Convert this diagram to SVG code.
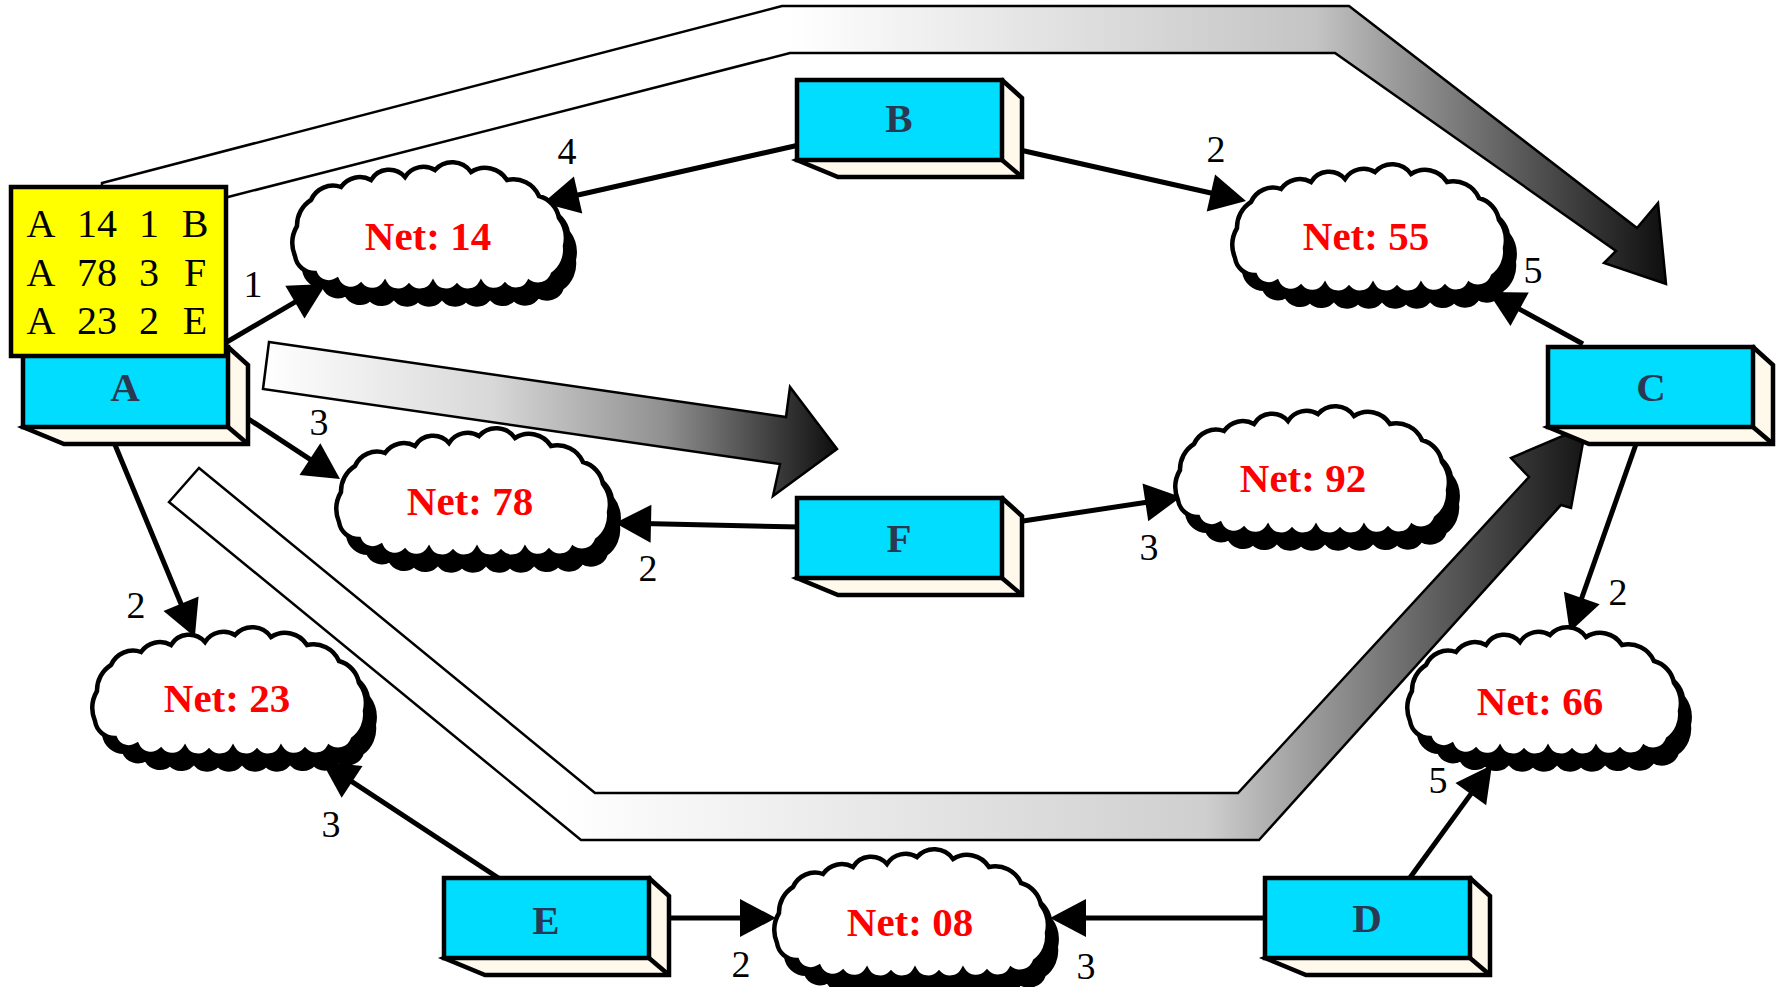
<svg xmlns="http://www.w3.org/2000/svg" xmlns:xlink="http://www.w3.org/1999/xlink" width="1777" height="987" viewBox="0 0 1777 987">
  <style>
    .bg { fill: #ffffff; }
    .block { stroke: #000; stroke-width: 2.5; stroke-linejoin: miter; }
    .conn { fill: none; stroke: #000; stroke-width: 5; marker-end: url(#ah); }
    .elabel { font-family: "Liberation Serif", "Times New Roman", serif; font-size: 38px; fill: #000; text-anchor: middle; }
    .cshadow { fill: #000; stroke: #000; stroke-width: 4; }
    .cbody { fill: #fff; stroke: #000; stroke-width: 4.5; }
    .ctext { font-family: "Liberation Serif", "Times New Roman", serif; font-weight: bold; font-size: 41px; fill: #ff0000; text-anchor: middle; }
    .front { fill: #00ddff; stroke: #000; stroke-width: 4.5; }
    .side { fill: #fff9ec; stroke: #000; stroke-width: 4.5; stroke-linejoin: miter; }
    .ntext { font-family: "Liberation Serif", "Times New Roman", serif; font-weight: bold; font-size: 41px; fill: #2a3852; text-anchor: middle; }
    .table { fill: #ffff00; stroke: #000; stroke-width: 4.5; }
    .ttext { font-family: "Liberation Serif", "Times New Roman", serif; font-size: 40px; fill: #000; text-anchor: middle; }
  </style>
  <defs>
    <marker id="ah" markerUnits="userSpaceOnUse" markerWidth="40" markerHeight="40" refX="8" refY="19" orient="auto" overflow="visible">
      <path d="M0,0 L36,19 L0,38 Z" fill="#000"/>
    </marker>
    <linearGradient id="gTop" gradientUnits="userSpaceOnUse" x1="790" y1="0" x2="1666" y2="0">
      <stop offset="0" stop-color="#ffffff"/>
      <stop offset="0.6" stop-color="#c4c4c4"/>
      <stop offset="1" stop-color="#0e0e0e"/>
    </linearGradient>
    <linearGradient id="gMid" gradientUnits="userSpaceOnUse" x1="263" y1="0" x2="837" y2="0">
      <stop offset="0" stop-color="#ffffff"/>
      <stop offset="0.4" stop-color="#d8d8d8"/>
      <stop offset="0.7" stop-color="#909090"/>
      <stop offset="1" stop-color="#0e0e0e"/>
    </linearGradient>
    <linearGradient id="gBot" gradientUnits="userSpaceOnUse" x1="560" y1="0" x2="1600" y2="0">
      <stop offset="0" stop-color="#ffffff"/>
      <stop offset="0.62" stop-color="#cfcfcf"/>
      <stop offset="1" stop-color="#0e0e0e"/>
    </linearGradient>
    <!-- cloud outline, 274 x 119: lobed top, smoother sides, scalloped bottom -->
    <path id="cloud" d="M2,88 A34,34 0 0 1 4,58 A30,30 0 0 1 18,32 A24,24 0 0 1 48,19 A23,23 0 0 1 78,12 A21,21 0 0 1 112,9 A22,22 0 0 1 142,2 A23,23 0 0 1 178,4 A26,26 0 0 1 214,12 A28,28 0 0 1 246,28 A28,28 0 0 1 266,50 A34,34 0 0 1 272,78 A30,30 0 0 1 260,106 A16,16 0 0 1 236,114 A15,15 0 0 1 212,117 A15,15 0 0 1 188,115 A15,15 0 0 1 164,118 A15,15 0 0 1 140,115 A15,15 0 0 1 116,118 A15,15 0 0 1 92,115 A15,15 0 0 1 68,117 A15,15 0 0 1 44,112 A15,15 0 0 1 22,105 A20,20 0 0 1 2,88 Z"/>
    <!-- router box: front face 205 x 80 with extruded side and bottom -->
    <g id="box">
      <polygon class="side" points="205,0 225,18 225,97 41,97 0,80"/>
      <line x1="205" y1="80" x2="225" y2="97" stroke="#000" stroke-width="4.5"/>
      <rect class="front" x="0" y="0" width="205" height="80"/>
    </g>
  </defs>

  <rect class="bg" x="0" y="0" width="1777" height="987"/>

  <!-- wide shaded route arrows -->
  <g id="routes">
    <polygon class="block" fill="url(#gTop)" points="102,204 102,183 782,6 1349,6 1637,228 1658,203 1666,284 1604,263 1616,251 1335,53 790,53 228,197 200,204"/>
    <polygon class="block" fill="url(#gMid)" points="269,342 786,417 790,387 837,449 773,496 780,464 263,389"/>
    <polygon class="block" fill="url(#gBot)" points="199,468 595,793 1238,793 1529,477 1511,458 1586,426 1571,508 1561,505 1259,840 581,840 169,502"/>
  </g>

  <!-- links between routers and networks, with hop costs -->
  <g id="connectors">
    <path class="conn" d="M220,346 L301.8,298.1"/>
    <path class="conn" d="M799,145 L570.3,196.8"/>
    <path class="conn" d="M1020,150 L1218.7,194.8"/>
    <path class="conn" d="M1583,344 L1512.6,305.4"/>
    <path class="conn" d="M247,418 L316.6,463.6"/>
    <path class="conn" d="M800,527 L643,523.6"/>
    <path class="conn" d="M1023,521 L1153.3,501.2"/>
    <path class="conn" d="M113,440 L184.1,611.2"/>
    <path class="conn" d="M500,879 L345.4,777.4"/>
    <path class="conn" d="M669,918 L748,918"/>
    <path class="conn" d="M1267,918 L1078,918"/>
    <path class="conn" d="M1409,879 L1475.5,787.6"/>
    <path class="conn" d="M1641,430 L1579.1,605.5"/>

    <text class="elabel" x="253" y="297">1</text>
    <text class="elabel" x="567" y="164">4</text>
    <text class="elabel" x="1216" y="162">2</text>
    <text class="elabel" x="1533" y="283">5</text>
    <text class="elabel" x="319" y="435">3</text>
    <text class="elabel" x="648" y="581">2</text>
    <text class="elabel" x="1149" y="560">3</text>
    <text class="elabel" x="136" y="618">2</text>
    <text class="elabel" x="331" y="837">3</text>
    <text class="elabel" x="741" y="977">2</text>
    <text class="elabel" x="1086" y="979">3</text>
    <text class="elabel" x="1438" y="793">5</text>
    <text class="elabel" x="1618" y="605">2</text>
  </g>

  <!-- networks -->
  <g id="net14">
    <use href="#cloud" xlink:href="#cloud" class="cshadow" x="302" y="182"/>
    <use href="#cloud" xlink:href="#cloud" class="cbody" x="293" y="168"/>
    <text class="ctext" x="428" y="250">Net: 14</text>
  </g>
  <g id="net55">
    <use href="#cloud" xlink:href="#cloud" class="cshadow" x="1242" y="184"/>
    <use href="#cloud" xlink:href="#cloud" class="cbody" x="1233" y="170"/>
    <text class="ctext" x="1366" y="250">Net: 55</text>
  </g>
  <g id="net78">
    <use href="#cloud" xlink:href="#cloud" class="cshadow" x="346" y="448"/>
    <use href="#cloud" xlink:href="#cloud" class="cbody" x="337" y="434"/>
    <text class="ctext" x="470" y="515">Net: 78</text>
  </g>
  <g id="net92">
    <use href="#cloud" xlink:href="#cloud" class="cshadow" x="1185" y="426"/>
    <use href="#cloud" xlink:href="#cloud" class="cbody" x="1176" y="412"/>
    <text class="ctext" x="1303" y="492">Net: 92</text>
  </g>
  <g id="net23">
    <use href="#cloud" xlink:href="#cloud" class="cshadow" x="102" y="647"/>
    <use href="#cloud" xlink:href="#cloud" class="cbody" x="93" y="633"/>
    <text class="ctext" x="227" y="712">Net: 23</text>
  </g>
  <g id="net66">
    <use href="#cloud" xlink:href="#cloud" class="cshadow" x="1417" y="647"/>
    <use href="#cloud" xlink:href="#cloud" class="cbody" x="1408" y="633"/>
    <text class="ctext" x="1540" y="715">Net: 66</text>
  </g>
  <g id="net08">
    <use href="#cloud" xlink:href="#cloud" class="cshadow" x="784" y="869"/>
    <use href="#cloud" xlink:href="#cloud" class="cbody" x="775" y="855"/>
    <text class="ctext" x="910" y="936">Net: 08</text>
  </g>

  <!-- routers -->
  <g id="routerA">
    <use href="#box" xlink:href="#box" x="23" y="347"/>
    <text class="ntext" x="125" y="401">A</text>
  </g>
  <g id="routerB">
    <use href="#box" xlink:href="#box" x="797" y="80"/>
    <text class="ntext" x="899" y="132">B</text>
  </g>
  <g id="routerC">
    <use href="#box" xlink:href="#box" x="1548" y="347"/>
    <text class="ntext" x="1651" y="401">C</text>
  </g>
  <g id="routerD">
    <use href="#box" xlink:href="#box" x="1265" y="878"/>
    <text class="ntext" x="1367" y="932">D</text>
  </g>
  <g id="routerE">
    <use href="#box" xlink:href="#box" x="444" y="878"/>
    <text class="ntext" x="546" y="934">E</text>
  </g>
  <g id="routerF">
    <use href="#box" xlink:href="#box" x="797" y="498"/>
    <text class="ntext" x="899" y="552">F</text>
  </g>

  <!-- link-state table held by router A -->
  <g id="tableA">
    <rect class="table" x="11" y="187" width="215" height="169"/>
    <text class="ttext" x="41" y="237">A</text>
    <text class="ttext" x="97" y="237">14</text>
    <text class="ttext" x="149" y="237">1</text>
    <text class="ttext" x="195" y="237">B</text>
    <text class="ttext" x="41" y="286">A</text>
    <text class="ttext" x="97" y="286">78</text>
    <text class="ttext" x="149" y="286">3</text>
    <text class="ttext" x="195" y="286">F</text>
    <text class="ttext" x="41" y="334">A</text>
    <text class="ttext" x="97" y="334">23</text>
    <text class="ttext" x="149" y="334">2</text>
    <text class="ttext" x="195" y="334">E</text>
  </g>
</svg>
